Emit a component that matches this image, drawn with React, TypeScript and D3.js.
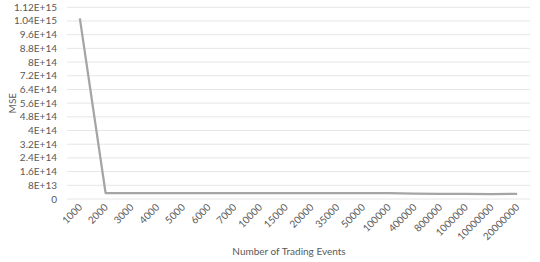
import React from 'react';
import * as d3 from 'd3';

const categories = ['1000', '2000', '3000', '4000', '5000', '6000', '7000', '10000', '15000', '20000',
  '35000', '50000', '100000', '400000', '800000', '1000000', '10000000', '20000000'];
const mse = [1.055e15, 3.5e13, 3.5e13, 3.5e13, 3.5e13, 3.5e13, 3.5e13, 3.5e13, 3.5e13, 3.5e13,
  3.5e13, 3.5e13, 3.4e13, 3.1e13, 3.0e13, 3.0e13, 2.8e13, 3.0e13];
const yTicks = [0, 8e13, 1.6e14, 2.4e14, 3.2e14, 4e14, 4.8e14, 5.6e14, 6.4e14, 7.2e14, 8e14,
  8.8e14, 9.6e14, 1.04e15, 1.12e15];
const yTickLabels = ['0', '8E+13', '1.6E+14', '2.4E+14', '3.2E+14', '4E+14', '4.8E+14', '5.6E+14',
  '6.4E+14', '7.2E+14', '8E+14', '8.8E+14', '9.6E+14', '1.04E+15', '1.12E+15'];

const W = 540;
const H = 262;
const LEFT = 67;
const RIGHT = 530;
const TOP = 7.3;
const BOTTOM = 199;
const FONT = 'Lato, "Open Sans", sans-serif';
const TEXT = '#595959';

export default function App() {
  const x = d3.scaleBand<string>().domain(categories).range([LEFT, RIGHT]).padding(0);
  const y = d3.scaleLinear().domain([0, 1.12e15]).range([BOTTOM, TOP]);
  const cx = (c: string) => (x(c) ?? 0) + x.bandwidth() / 2;

  const line = d3.line<number>()
    .x((_, i) => cx(categories[i]))
    .y((d) => y(d));

  return (
    <svg width={W} height={H} style={{ position: 'absolute', left: 0, top: 0, background: '#fff' }}
      fontFamily={FONT}>
      {yTicks.map((t, i) => (
        <g key={t}>
          <line x1={LEFT} x2={RIGHT} y1={y(t)} y2={y(t)} stroke="#e6e6e6" strokeWidth={1} />
          <text x={57} y={y(t)} dy="0.35em" textAnchor="end" fontSize={10} fill={TEXT}>
            {yTickLabels[i]}
          </text>
        </g>
      ))}
      <path d={line(mse) ?? ''} fill="none" stroke="#a5a5a5" strokeWidth={2.25}
        strokeLinejoin="round" />
      {categories.map((c) => (
        <text key={c} transform={`translate(${cx(c) + 3},${208}) rotate(-45)`}
          textAnchor="end" fontSize={10} fill={TEXT}>
          {c}
        </text>
      ))}
      <text transform={`translate(16,${(TOP + BOTTOM) / 2}) rotate(-90)`} textAnchor="middle"
        fontSize={10} fill={TEXT}>MSE</text>
      <text x={289} y={255} textAnchor="middle" fontSize={10} fill={TEXT}>
        Number of Trading Events
      </text>
    </svg>
  );
}
